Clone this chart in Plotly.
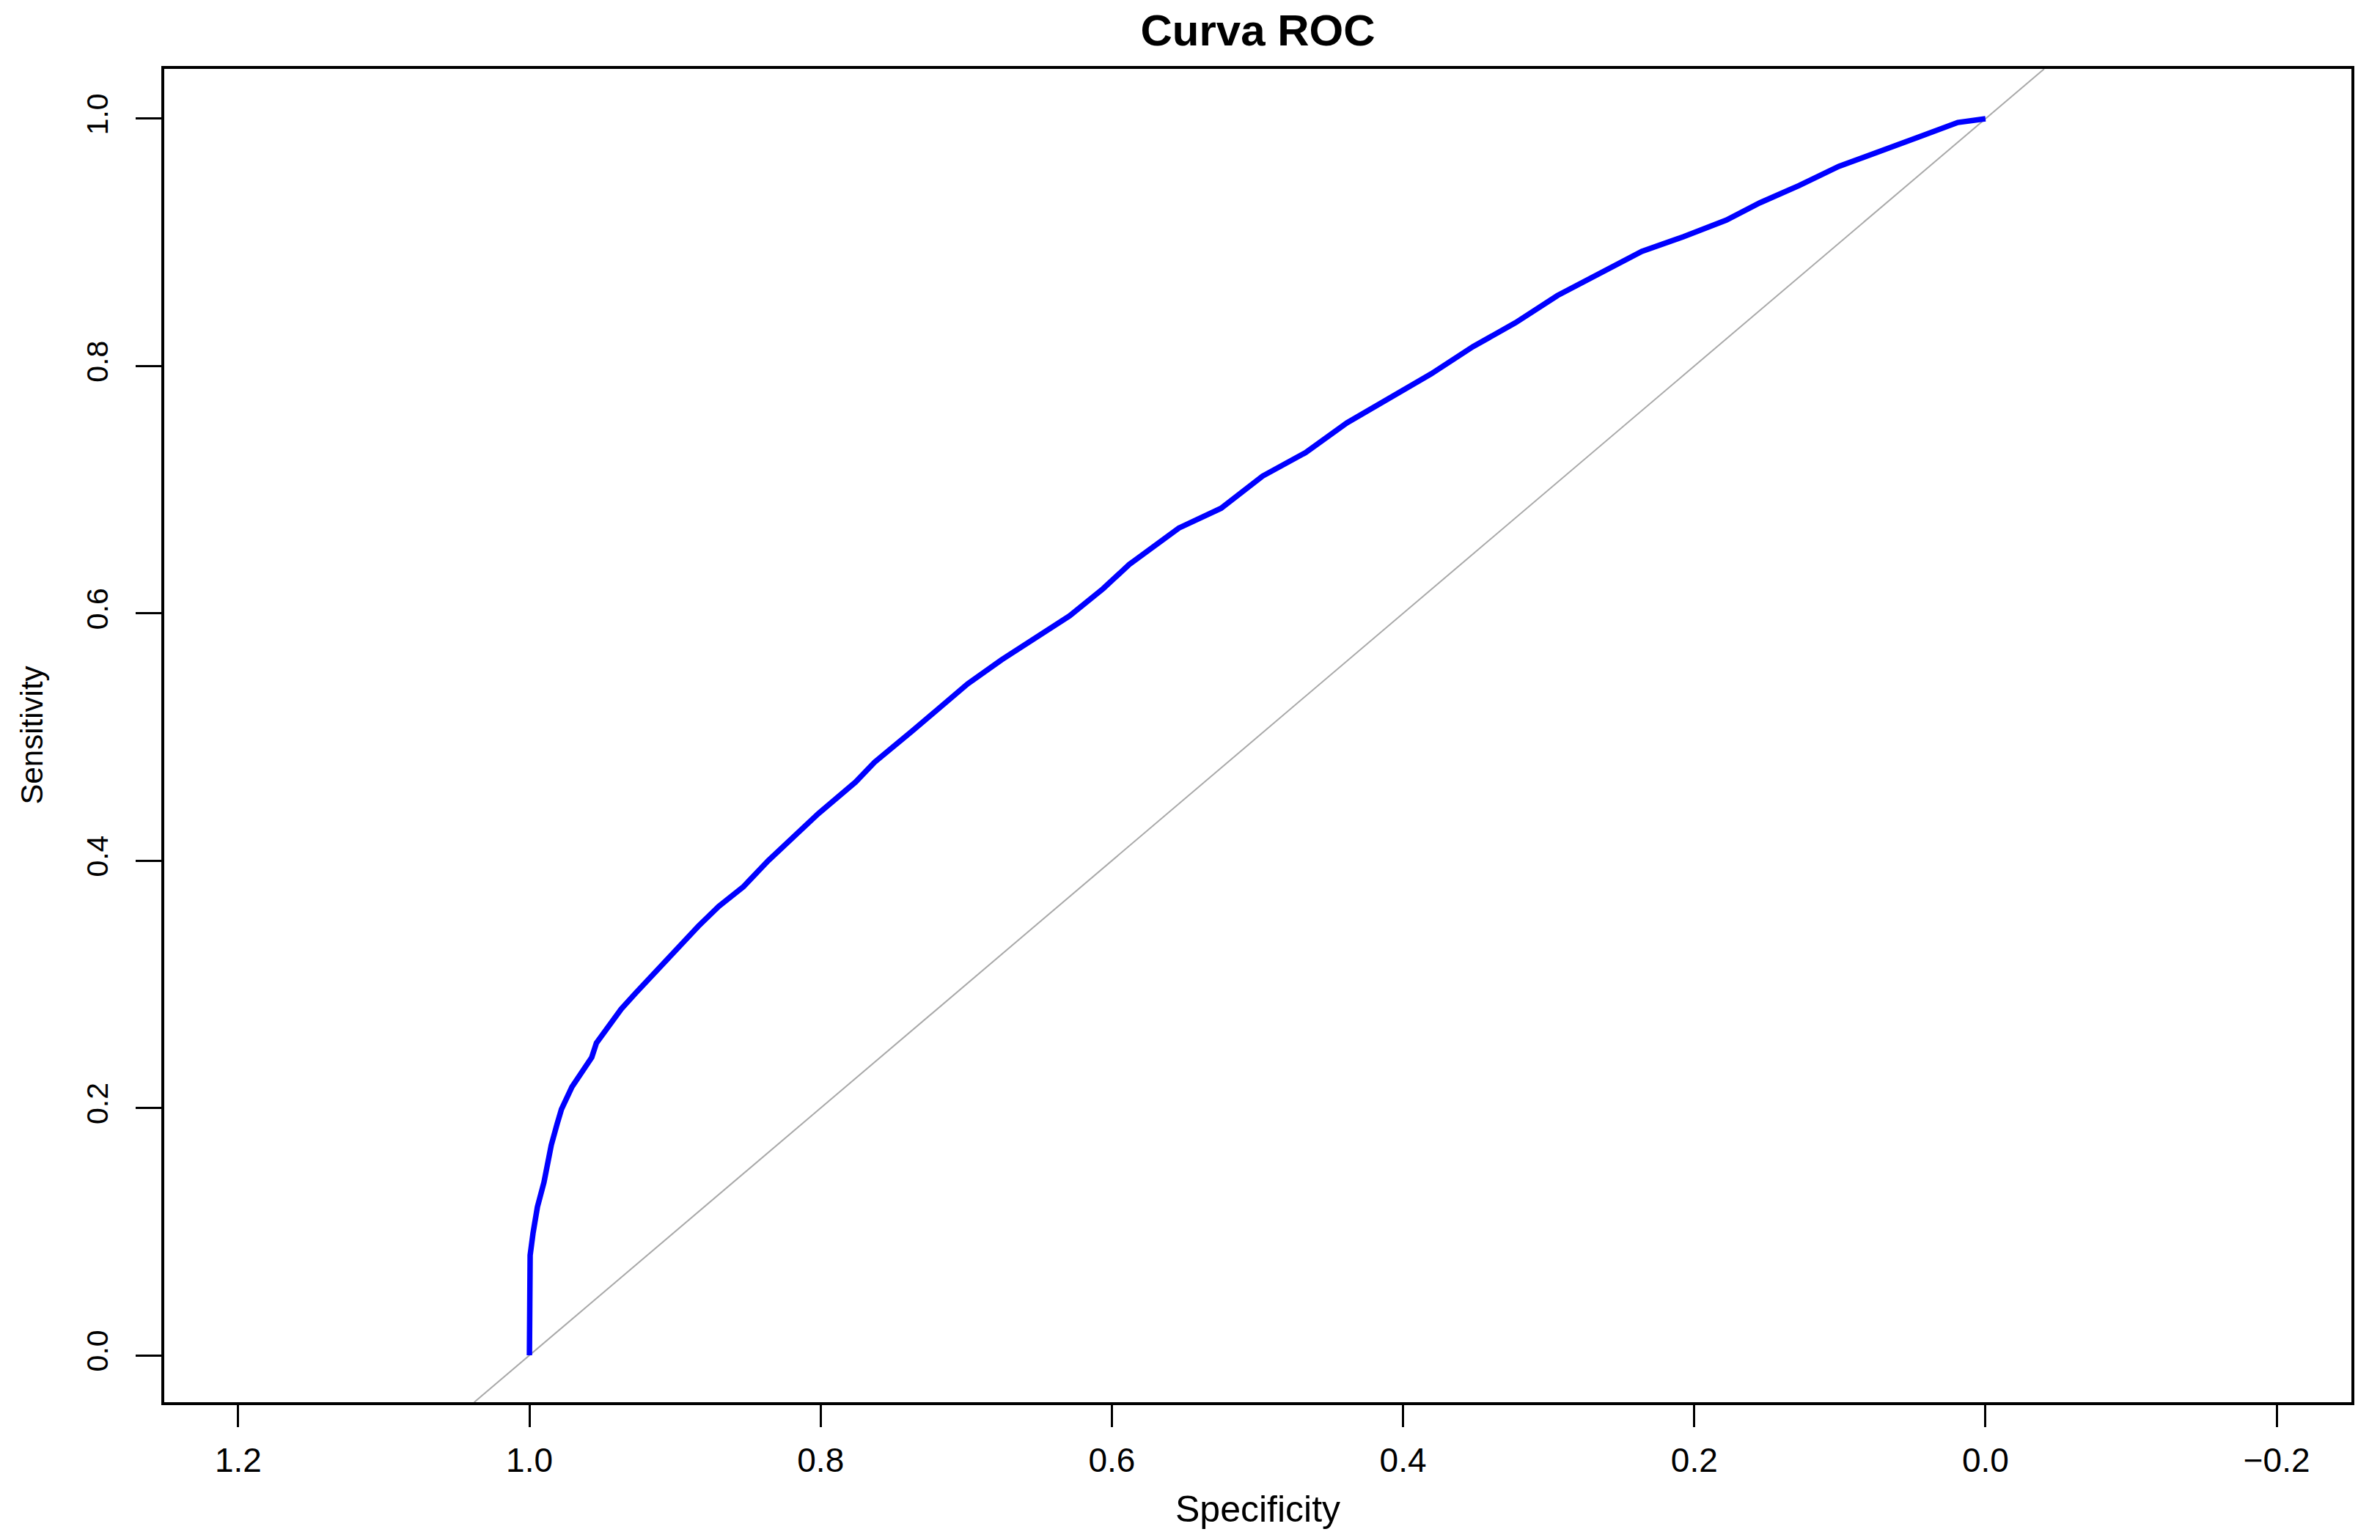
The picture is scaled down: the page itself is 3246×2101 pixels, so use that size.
import plotly.graph_objects as go

# ROC curve points (specificity, sensitivity)
specificity = [1.0, 1.0, 0.9995, 0.9975, 0.9945, 0.990, 0.9874, 0.985, 0.981, 0.978,
               0.9708, 0.9643, 0.9572, 0.954, 0.947, 0.937, 0.927, 0.910, 0.899, 0.884,
               0.870, 0.853, 0.836, 0.821, 0.8016, 0.776, 0.763, 0.737, 0.714, 0.699,
               0.6757, 0.6576, 0.629, 0.606, 0.588, 0.554, 0.525, 0.4965, 0.467, 0.4386,
               0.410, 0.3807, 0.352, 0.3228, 0.294, 0.265, 0.236, 0.2075, 0.178, 0.155,
               0.128, 0.1007, 0.0735, 0.0463, 0.019, 0.0]
sensitivity = [0.0, 0.060, 0.081, 0.099, 0.120, 0.140, 0.158, 0.170, 0.187, 0.199,
               0.217, 0.229, 0.241, 0.2525, 0.264, 0.280, 0.293, 0.314, 0.329, 0.347,
               0.363, 0.379, 0.400, 0.416, 0.438, 0.4636, 0.4796, 0.505, 0.5288, 0.543,
               0.5625, 0.576, 0.598, 0.620, 0.6396, 0.669, 0.685, 0.711, 0.730, 0.754,
               0.774, 0.7937, 0.8157, 0.835, 0.857, 0.875, 0.8927, 0.9046, 0.918, 0.932,
               0.946, 0.9615, 0.9727, 0.985, 0.997, 1.0]

x_ticks = [1.2, 1.0, 0.8, 0.6, 0.4, 0.2, 0.0, -0.2]
y_ticks = [0.0, 0.2, 0.4, 0.6, 0.8, 1.0]
x_range = [1.2508, -0.2513]
y_range = [-0.0379, 1.0403]

title_text = "Curva ROC"
x_title = "Specificity"
y_title = "Sensitivity"

FONT = "Liberation Sans, Arial, sans-serif"

W, H = 3230, 2085  # page body has an 8px margin
PLOT_H = H - 86 - 180

# identity line (sens = 1 - spec) spanning the plot region
diag_y = [y_range[0], y_range[1]]
diag_x = [1 - v for v in diag_y]

fig = go.Figure()
fig.add_trace(go.Scatter(x=diag_x, y=diag_y, mode="lines",
                         line=dict(color="#A9A9A9", width=2), showlegend=False,
                         hoverinfo="skip"))
fig.add_trace(go.Scatter(x=specificity, y=sensitivity, mode="lines",
                         line=dict(color="#0000FF", width=7.5), showlegend=False))

fig.update_layout(
    width=W, height=H,
    margin=dict(l=216, r=31, t=86, b=180),
    paper_bgcolor="white", plot_bgcolor="white",
    font=dict(family=FONT, color="black"),
    title=dict(text="<b>" + title_text + "</b>", x=0.5, xref="paper", xanchor="center",
               y=1 - 33 / H, yref="container", yanchor="middle",
               font=dict(size=60, family=FONT, color="black")),
    showlegend=False,
)
fig.update_xaxes(range=x_range, tickvals=x_ticks, tickformat=".1f",
                 showgrid=False, zeroline=False,
                 showline=True, mirror=True, linecolor="black", linewidth=3.5,
                 ticks="outside", ticklen=30, tickwidth=3, tickcolor="black",
                 tickfont=dict(size=46, family=FONT, color="black"),
                 ticklabelstandoff=6)
fig.update_yaxes(range=y_range, tickvals=y_ticks, tickformat=".1f",
                 showgrid=False, zeroline=False,
                 showline=True, mirror=True, linecolor="black", linewidth=3.5,
                 ticks="outside", ticklen=35, tickwidth=3, tickcolor="black",
                 tickangle=-90,
                 tickfont=dict(size=41, family=FONT, color="black"),
                 ticklabelstandoff=22)

fig.add_annotation(text=x_title, xref="paper", yref="paper", x=0.5, y=-176 / PLOT_H,
                   xanchor="center", yanchor="bottom", showarrow=False,
                   font=dict(size=50, family=FONT, color="black"))
fig.add_annotation(text=y_title, xref="paper", yref="paper", x=(43 - 224) / 2983, y=0.5,
                   xanchor="center", yanchor="middle", showarrow=False, textangle=-90,
                   font=dict(size=42, family=FONT, color="black"))

fig.write_html("out.html")
